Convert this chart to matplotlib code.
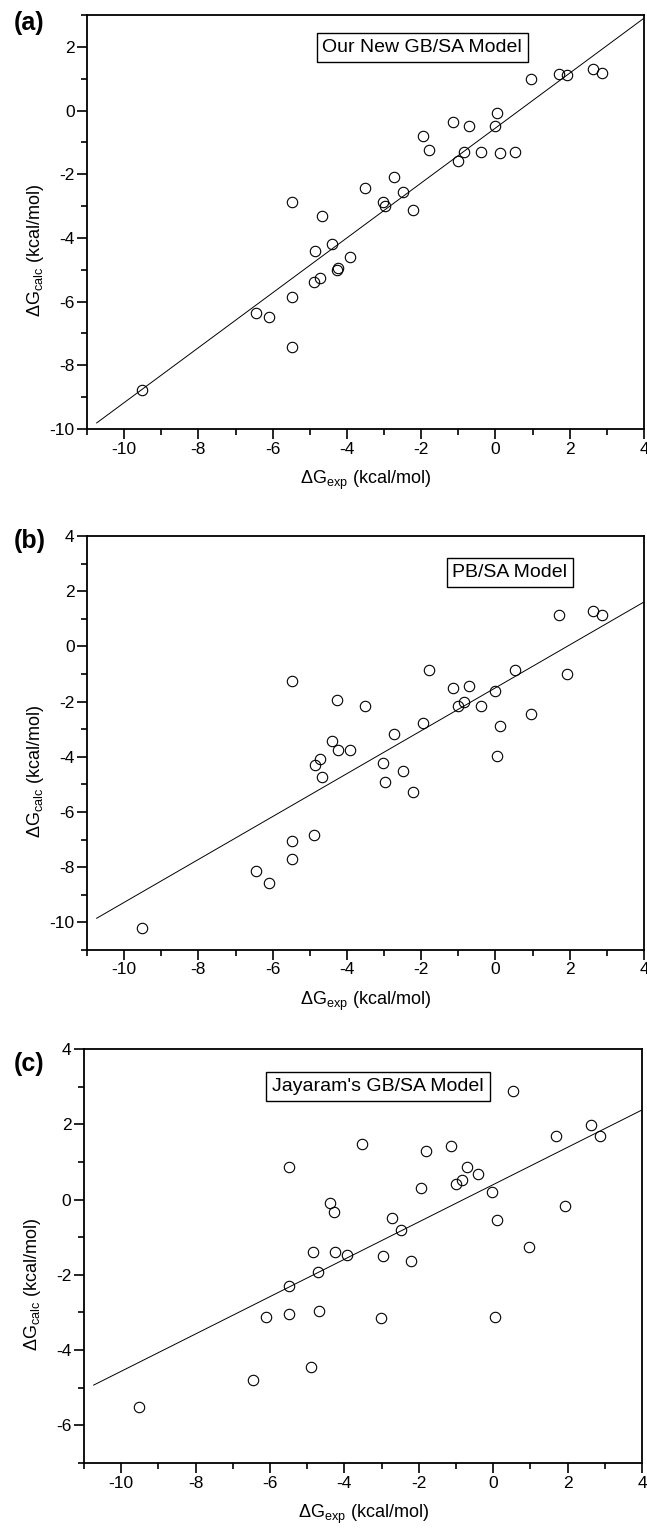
import matplotlib
matplotlib.use("Agg")
import matplotlib.pyplot as plt
from matplotlib.ticker import MultipleLocator

plt.rcParams['font.family'] = ['Liberation Sans', 'DejaVu Sans']
plt.rcParams['mathtext.fontset'] = 'custom'
plt.rcParams['mathtext.rm'] = 'Liberation Sans'
plt.rcParams['mathtext.it'] = 'Liberation Sans:italic'
plt.rcParams['axes.unicode_minus'] = False

# experimental solvation free energies (shared by all panels)
dg_exp = [-9.51, -6.46, -6.10, -5.48, -5.48, -5.48, -4.90, -4.85, -4.72, -4.68,
          -4.39, -4.28, -4.24, -3.93, -3.52, -3.02, -2.97, -2.73, -2.48, -2.21,
          -1.94, -1.80, -1.14, -1.00, -0.84, -0.70, -0.40, -0.02, 0.05, 0.11,
          0.53, 0.95, 1.70, 1.92, 2.62, 2.88]

# (a) our new GB/SA model
dg_new_gb = [-8.77, -6.37, -6.47, -2.86, -5.87, -7.42, -5.39, -4.40, -5.25, -3.32,
             -4.19, -5.01, -4.95, -4.60, -2.42, -2.86, -3.00, -2.08, -2.56, -3.11,
             -0.81, -1.23, -0.36, -1.59, -1.31, -0.49, -1.29, -0.47, -0.07, -1.33,
             -1.29, 0.98, 1.15, 1.13, 1.32, 1.19]

# (b) PB/SA model
dg_pb = [-10.21, -8.12, -8.58, -1.24, -7.04, -7.72, -6.82, -4.29, -4.08, -4.72,
         -3.44, -1.96, -3.76, -3.76, -2.15, -4.22, -4.92, -3.18, -4.53, -5.27,
         -2.78, -0.87, -1.49, -2.16, -2.00, -1.44, -2.15, -1.60, -3.98, -2.90,
         -0.84, -2.44, 1.13, -1.00, 1.28, 1.13]

# (c) Jayaram's GB/SA model
dg_jay = [-5.50, -4.80, -3.12, 0.86, -2.31, -3.04, -4.44, -1.39, -1.93, -2.97,
          -0.08, -0.32, -1.39, -1.47, 1.48, -3.14, -1.51, -0.48, -0.80, -1.64,
          0.31, 1.28, 1.41, 0.40, 0.53, 0.87, 0.69, 0.19, -3.12, -0.55,
          2.89, -1.25, 1.70, -0.16, 1.98, 1.69]

# fitted lines, end points
fit_x = [-10.74, 4.0]
fit_a = [-9.81, 2.90]
fit_b = [-9.85, 1.61]
fit_c = [-4.93, 2.38]

panel_tags = ['(a)', '(b)', '(c)']
model_names = ['Our New GB/SA Model', 'PB/SA Model', "Jayaram's GB/SA Model"]
y_limits = [(-10, 3), (-11, 4), (-7, 4)]

W, H = 647, 1539
fig = plt.figure(figsize=(W / 100, H / 100), dpi=100)

# axes boxes in pixels: left, top, right, bottom
boxes = [(87, 15, 644, 429), (87, 536, 644, 950), (84, 1049, 642, 1463)]
box_centers = [(-1.97, 1.97), (0.39, 2.67), (-3.10, 3.00)]
tag_y = [23, 541, 1064]

for i, ys in enumerate([dg_new_gb, dg_pb, dg_jay]):
    l, t, r, b = boxes[i]
    ax = fig.add_axes([l / W, 1 - b / H, (r - l) / W, (b - t) / H])
    ax.plot(fit_x, [fit_a, fit_b, fit_c][i], color='black', lw=0.7)
    ax.plot(dg_exp, ys, linestyle='none', marker='o', ms=7.5, mfc='none',
            mec='black', mew=0.8)
    ax.set_xlim(-11, 4)
    ax.set_ylim(*y_limits[i])
    ax.xaxis.set_major_locator(MultipleLocator(2))
    ax.xaxis.set_minor_locator(MultipleLocator(1))
    ax.yaxis.set_major_locator(MultipleLocator(2))
    ax.yaxis.set_minor_locator(MultipleLocator(1))
    ax.tick_params(which='both', direction='out', top=False, right=False,
                   labelsize=12.5, width=1.2, pad=2)
    ax.tick_params(which='major', length=7)
    ax.tick_params(which='minor', length=4)
    for s in ax.spines.values():
        s.set_linewidth(1.3)

    ax.set_xlabel(r'ΔG$_{\rm exp}$ (kcal/mol)', fontsize=13)
    ax.xaxis.set_label_coords(0.5, -0.125)
    ax.xaxis.label.set_va('center')
    ax.set_ylabel(r'ΔG$_{\rm calc}$ (kcal/mol)', fontsize=13)
    ax.yaxis.set_label_coords(-0.092, 0.43)
    ax.yaxis.label.set_va('center')

    cx, cy = box_centers[i]
    ax.text(cx, cy, model_names[i], ha='center', va='center', fontsize=14,
            bbox=dict(boxstyle='square,pad=0.3', fc='white', ec='black', lw=1))

    fig.text(14 / W, 1 - tag_y[i] / H, panel_tags[i], ha='left', va='center',
             fontsize=18, fontweight='bold')

fig.savefig('out.png', dpi=100)
